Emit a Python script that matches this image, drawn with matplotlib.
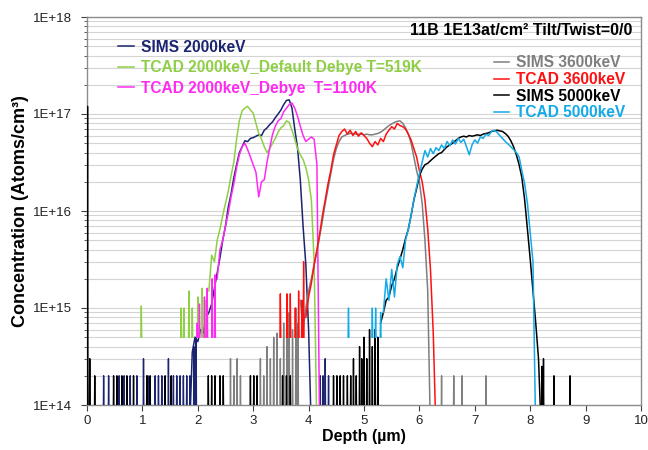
import numpy as np
import matplotlib
matplotlib.use("Agg")
import matplotlib.pyplot as plt
from matplotlib.ticker import LogLocator, FixedLocator, NullFormatter

plt.rcParams['font.family'] = ['Liberation Sans', 'DejaVu Sans']

# ---------------------------------------------------------------- data
STEP = 0.05          # depth step of the profiles (um)
BELOW_AXIS = 5e13    # SIMS counts below the detection floor
TCAD_FLOOR = 5e14    # TCAD numerical floor

# SIMS 2000keV
sims2000_start = 1.85
sims2000 = [5e13, 3.5e14, 5e14, 4.5e14, 6e14, 5.5e14, 8e14, 9e14, 1.1e15, 1.6e15,
            2.3e15, 3.3e15, 5e15, 7e15, 1.1e16, 1.5e16, 2.2e16, 3.0e16, 4.0e16, 4.6e16,
            5.3e16, 5.2e16, 5.6e16, 5.7e16, 5.9e16, 6.1e16, 6.0e16, 6.8e16, 7.2e16, 7.8e16,
            8.3e16, 9.2e16, 1.0e17, 1.1e17, 1.25e17, 1.38e17, 1.4e17, 1.15e17, 7e16, 4.5e16,
            2.1e16, 7e15, 2.8e15, 6e14, 5e13]
sims2000_spike_depth = [0.30, 0.39, 0.58, 0.67, 0.78, 0.90, 1.02, 1.10, 1.23, 1.29, 1.35,
                        1.47, 1.56, 1.62, 1.68, 1.74, 1.80, 1.86, 1.93, 1.97,
                        4.21, 4.26, 4.30, 4.36]
sims2000_spike_conc = [2e14, 2e14, 2e14, 2e14, 2e14, 2e14, 3e14, 2e14, 2e14, 2e14, 2e14,
                       3e14, 2e14, 2e14, 2e14, 2e14, 2e14, 2e14, 4e14, 5e14,
                       2e14, 2e14, 3e14, 2e14]

# TCAD 2000keV, default Debye temperature
tcad2000_def_start = 2.20
tcad2000_def = [1.5e15, 3.5e15, 3.0e15, 5.0e15, 6.5e15, 9e15, 1.2e16, 1.6e16, 2.3e16, 3.2e16,
                5.5e16, 8.5e16, 1.08e17, 1.15e17, 1.2e17, 1.1e17, 1.02e17, 8e16, 6.3e16, 5.5e16,
                4.6e16, 4.0e16, 4.4e16, 5.0e16, 5.6e16, 6.5e16, 7.2e16, 7.6e16, 8.5e16, 8.2e16,
                6.8e16, 5.5e16, 4.4e16, 3.8e16, 3.4e16, 2.8e16, 2.1e16, 1.3e16, 3e15, 5e13]
tcad2000_def_spike_depth = [0.98, 1.70, 1.75, 1.84, 1.90, 2.00, 2.08, 2.15]
tcad2000_def_spike_conc = [1.05e15, 1.0e15, 1.0e15, 1.5e15, 1.0e15, 1.3e15, 1.6e15, 1.2e15]

# TCAD 2000keV, Debye T=1100K
tcad2000_deb_start = 2.35
tcad2000_deb = [2.0e15, 4.0e15, 5.0e15, 7.0e15, 9.5e15, 1.4e16, 1.9e16, 2.8e16, 3.8e16, 4.6e16,
                5.0e16, 4.3e16, 3.6e16, 3.0e16, 2.5e16, 1.4e16, 2.0e16, 2.1e16, 3.2e16, 4.5e16,
                6.2e16, 7.5e16, 8.5e16, 9.0e16, 1.05e17, 1.15e17, 1.25e17, 1.3e17, 1.15e17, 9.5e16,
                7.5e16, 6.0e16, 5.2e16, 5.5e16, 5.8e16, 5.5e16, 3.0e16, 5e13]
tcad2000_deb_spike_depth = [1.99, 2.03, 2.12, 2.17, 2.26, 2.31]
tcad2000_deb_spike_conc = [7e14, 1.1e15, 1.3e15, 1.6e15, 2.0e15, 2.2e15]

# SIMS 3600keV
sims3600_start = 3.85
sims3600 = [1.2e15, 6e14, 1.0e15, 1.5e15, 2.0e15, 2.8e15, 3.8e15, 5.5e15, 8e15, 1.2e16,
            1.7e16, 2.4e16, 3.4e16, 4.4e16, 5.2e16, 5.8e16, 6.0e16, 6.2e16, 6.3e16, 6.3e16,
            6.2e16, 6.2e16, 6.2e16, 6.1e16, 6.2e16, 6.1e16, 6.1e16, 6.2e16, 6.3e16, 6.5e16,
            6.8e16, 7.2e16, 7.6e16, 7.9e16, 8.2e16, 8.4e16, 8.5e16, 8.0e16, 7.2e16, 6.2e16,
            5.0e16, 3.6e16, 2.6e16, 2.0e16, 1.2e16, 5e15, 1.5e15, 5e13]
sims3600_spike_depth = [2.59, 2.65, 2.71, 2.77, 3.13, 3.19, 3.25, 3.31, 3.37, 3.43, 3.49,
                        3.55, 3.61, 3.65, 3.71, 3.77, 3.81, 6.40, 6.62, 6.77, 7.20]
sims3600_spike_conc = [3e14, 2e14, 3e14, 2e14, 3e14, 2e14, 4e14, 3e14, 5e14, 5.5e14, 3e14,
                       7e14, 5e14, 9e14, 6e14, 1e15, 7e14, 2e14, 2e14, 2e14, 2e14]

# TCAD 3600keV
tcad3600_start = 3.95
tcad3600 = [8e14, 1.3e15, 1.8e15, 2.8e15, 4.0e15, 5.8e15, 9e15, 1.3e16, 1.9e16, 2.6e16,
            3.8e16, 4.8e16, 6.0e16, 6.6e16, 7.0e16, 6.2e16, 6.8e16, 6.0e16, 6.6e16, 5.9e16,
            6.4e16, 6.0e16, 5.6e16, 5.0e16, 4.6e16, 5.2e16, 4.8e16, 5.6e16, 5.2e16, 6.2e16,
            6.8e16, 7.4e16, 7.0e16, 8.0e16, 7.6e16, 7.4e16, 7.0e16, 6.2e16, 5.4e16, 4.4e16,
            3.6e16, 2.6e16, 2.0e16, 1.3e16, 6.5e15, 2.5e15, 5.5e14, 5e13]
tcad3600_spike_depth = [3.49, 3.61, 3.67, 3.76, 3.82, 3.88, 3.91]
tcad3600_spike_conc = [1.4e15, 1.4e15, 1.4e15, 1.0e15, 1.5e15, 1.2e15, 3.0e15]

# SIMS 5000keV
sims5000_start = 5.30
sims5000 = [7e14, 9e14, 1.2e15, 1.3e15, 1.7e15, 2.0e15, 2.6e15, 3.2e15, 4.0e15, 5.2e15,
            6.5e15, 9e15, 1.3e16, 1.7e16, 2.3e16, 2.7e16, 3.0e16, 3.1e16, 3.3e16, 3.5e16,
            3.7e16, 3.9e16, 4.0e16, 4.3e16, 4.6e16, 4.8e16, 5.0e16, 5.3e16, 5.6e16, 5.8e16,
            5.9e16, 5.8e16, 6.0e16, 5.9e16, 6.0e16, 6.1e16, 6.0e16, 6.2e16, 6.3e16, 6.4e16,
            6.6e16, 6.7e16, 6.8e16, 6.7e16, 6.6e16, 6.3e16, 5.9e16, 5.3e16, 4.6e16, 3.8e16,
            3.0e16, 2.2e16, 1.3e16, 6.5e15, 3.2e15, 1.5e15, 7e14, 3e14, 5e13]
sims5000_spike_depth = [0.01, 0.05, 0.14, 0.48, 0.54, 0.63, 0.72, 0.84, 1.08, 1.14, 1.41,
                        1.52, 2.19, 2.25, 2.31, 2.40, 2.46, 2.95, 3.01, 3.07, 3.53, 3.60,
                        3.67, 4.45, 4.51, 4.57, 4.63, 4.70, 4.76, 4.81, 4.86, 4.92, 4.96,
                        5.00, 5.05, 5.10, 5.15, 5.20, 5.25, 8.21, 8.24, 8.43, 8.72]
sims5000_spike_conc = [1.2e17, 3e14, 2e14, 2e14, 2e14, 2e14, 2e14, 2e14, 2e14, 2e14, 2e14,
                       2e14, 2e14, 2e14, 2e14, 2e14, 2e14, 2e14, 2e14, 2e14, 2e14, 2e14,
                       2e14, 2e14, 2e14, 2e14, 2e14, 2e14, 2e14, 3e14, 2e14, 4e14, 3e14,
                       5e14, 3e14, 6e14, 4e14, 6e14, 5e14, 2.5e14, 3e14, 2e14, 2e14]

# TCAD 5000keV
tcad5000_start = 5.35
tcad5000 = [9e14, 2.0e15, 1.2e15, 2.5e15, 1.3e15, 2.8e15, 3.4e15, 2.6e15, 5e15, 6.5e15,
            9e15, 1.3e16, 1.8e16, 2.4e16, 3.2e16, 4.2e16, 3.6e16, 4.4e16, 3.9e16, 4.5e16,
            4.2e16, 4.8e16, 4.4e16, 5.2e16, 4.7e16, 5.4e16, 4.9e16, 5.6e16, 5.1e16, 5.5e16,
            4.6e16, 3.8e16, 4.8e16, 5.4e16, 5.0e16, 5.8e16, 5.6e16, 6.2e16, 6.0e16, 6.6e16,
            6.8e16, 6.5e16, 6.0e16, 5.6e16, 5.2e16, 4.9e16, 4.6e16, 4.3e16, 4.0e16, 3.6e16,
            2.6e16, 1.9e16, 1.2e16, 6e15, 3e15, 5e13]
tcad5000_spike_depth = [4.72, 5.15, 5.21, 5.30]
tcad5000_spike_conc = [1.0e15, 1.0e15, 1.0e15, 9e14]

labels = ["SIMS 2000keV", "TCAD 2000keV_Default Debye T=519K", "TCAD 2000keV_Debye  T=1100K",
          "SIMS 3600keV", "TCAD 3600keV", "SIMS 5000keV", "TCAD 5000keV"]
colors = ["#1b2470", "#8fcf45", "#ff2af2", "#7f7f7f", "#ff1010", "#000000", "#12aae8"]
y_tick_labels = ["1E+14", "1E+15", "1E+16", "1E+17", "1E+18"]
x_tick_labels = [str(i) for i in range(11)]


# ---------------------------------------------------------------- helpers
def depth_axis(start, values):
    return np.round(start + STEP * np.arange(len(values)), 3)


def spikes(depths, peaks, base, half=0.008):
    xs, ys = [], []
    for d, p in zip(depths, peaks):
        xs += [d - half, d, d + half, np.nan]
        ys += [base, p, base, np.nan]
    return np.array(xs), np.array(ys)


series = [
    (sims2000_start, sims2000, sims2000_spike_depth, sims2000_spike_conc, BELOW_AXIS),
    (tcad2000_def_start, tcad2000_def, tcad2000_def_spike_depth, tcad2000_def_spike_conc, TCAD_FLOOR),
    (tcad2000_deb_start, tcad2000_deb, tcad2000_deb_spike_depth, tcad2000_deb_spike_conc, TCAD_FLOOR),
    (sims3600_start, sims3600, sims3600_spike_depth, sims3600_spike_conc, BELOW_AXIS),
    (tcad3600_start, tcad3600, tcad3600_spike_depth, tcad3600_spike_conc, TCAD_FLOOR),
    (sims5000_start, sims5000, sims5000_spike_depth, sims5000_spike_conc, BELOW_AXIS),
    (tcad5000_start, tcad5000, tcad5000_spike_depth, tcad5000_spike_conc, TCAD_FLOOR),
]

# ---------------------------------------------------------------- figure
fig = plt.figure(figsize=(6.48, 4.5), dpi=100)
ax = fig.add_axes([87 / 648, 45 / 450, 554 / 648, 388 / 450])

handles = []
for (start, vals, sd, sc, base), lab, col in zip(series, labels, colors):
    sx, sy = spikes(sd, sc, base)
    ax.plot(sx, sy, color=col, lw=1.0, zorder=3)
    h, = ax.plot(depth_axis(start, vals), vals, color=col, lw=1.1, label=lab, zorder=3)
    handles.append(h)

ax.set_yscale('log')
ax.set_xlim(0, 10)
ax.set_ylim(1e14, 1e18)

ax.yaxis.set_major_locator(FixedLocator([1e14, 1e15, 1e16, 1e17, 1e18]))
ax.set_yticklabels(y_tick_labels)
ax.yaxis.set_minor_locator(LogLocator(base=10, subs=np.arange(2, 10)))
ax.yaxis.set_minor_formatter(NullFormatter())
ax.set_xticks(range(11))
ax.set_xticklabels(x_tick_labels)

ax.grid(True, which='both', axis='y', color='#d4d4d4', lw=0.8, zorder=0)
ax.set_axisbelow(True)

for s in ax.spines.values():
    s.set_color('#8c8c8c')
    s.set_linewidth(1.0)

ax.tick_params(axis='y', which='major', labelsize=9.5, color='#404040',
               labelcolor='#222222', length=4, direction='out', pad=7)
ax.tick_params(axis='x', which='major', labelsize=9.5, color='#404040',
               labelcolor='#222222', length=4, direction='out', pad=3)
ax.tick_params(axis='y', which='minor', length=2.5, color='#404040', direction='out')

ax.set_xlabel("Depth (\u00b5m)", fontsize=11.5, fontweight='bold', labelpad=2)
ax.set_ylabel("Concentration (Atoms/cm\u00b3)", fontsize=13, fontweight='bold', labelpad=3)

ax.text(0.984, 0.964, "11B 1E13at/cm\u00b2 Tilt/Twist=0/0", transform=ax.transAxes,
        ha='right', va='center', fontsize=11.5, fontweight='bold', color='black')

leg_font = {'weight': 'bold', 'size': 11.2}
leg1 = ax.legend(handles=handles[:3], loc='upper left', bbox_to_anchor=(0.056, 0.942),
                 frameon=False, prop=leg_font, labelcolor='linecolor',
                 handlelength=1.0, handletextpad=0.45, labelspacing=0.36,
                 borderaxespad=0, borderpad=0)
ax.add_artist(leg1)
ax.legend(handles=handles[3:], loc='upper left', bbox_to_anchor=(0.734, 0.901),
          frameon=False, prop=leg_font, labelcolor='linecolor',
          handlelength=1.0, handletextpad=0.45, labelspacing=0.1,
          borderaxespad=0, borderpad=0)

fig.savefig("out.png", dpi=100, facecolor='white')
